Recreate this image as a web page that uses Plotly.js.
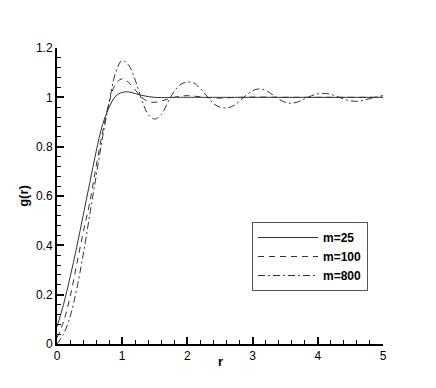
<!DOCTYPE html>
<html>
<head>
<meta charset="utf-8">
<script src="https://cdn.plot.ly/plotly-3.0.1.min.js"></script>
<style>
  html, body { margin: 0; padding: 0; background: #fff; }
  #graph { width: 436px; height: 388px; }
</style>
</head>
<body>
<div id="graph"></div>
<script>
let R_M25 = [0, 0.1, 0.2, 0.3, 0.4, 0.5, 0.6, 0.7, 0.8, 0.9, 1.0, 1.1, 1.2, 1.3, 1.4, 1.5, 1.6, 1.8, 2.0, 3.0, 4.0, 5.0]
let G_M25 = [0.07, 0.16, 0.27, 0.39, 0.52, 0.65, 0.78, 0.89, 0.96, 1.005, 1.02, 1.022, 1.015, 1.008, 1.003, 1.0, 0.999, 1.0, 1.0, 1.0, 1.0, 1.0]

let R_M100 = [0, 0.1, 0.2, 0.3, 0.4, 0.5, 0.6, 0.7, 0.8, 0.9, 1.0, 1.1, 1.2, 1.3, 1.4, 1.5, 1.6, 1.7, 1.8, 1.9, 2.0, 2.1, 2.2, 2.3, 2.5, 2.7, 3.0, 3.5, 4.0, 5.0]
let G_M100 = [0.025, 0.09, 0.19, 0.32, 0.45, 0.57, 0.72, 0.86, 0.98, 1.055, 1.075, 1.06, 1.03, 1.0, 0.982, 0.98, 0.985, 0.993, 1.0, 1.005, 1.007, 1.005, 1.002, 0.999, 0.997, 0.999, 1.001, 1.0, 1.0, 1.0]

let R_M800 = [0, 0.1, 0.2, 0.3, 0.4, 0.5, 0.6, 0.7, 0.8, 0.9, 1.0, 1.1, 1.2, 1.3, 1.4, 1.5, 1.6, 1.7, 1.8, 1.9, 2.0, 2.1, 2.2, 2.3, 2.4, 2.5, 2.6, 2.7, 2.8, 2.9, 3.0, 3.1, 3.2, 3.3, 3.4, 3.5, 3.6, 3.7, 3.8, 3.9, 4.0, 4.1, 4.2, 4.3, 4.4, 4.5, 4.6, 4.7, 4.8, 4.9, 5.0]
let G_M800 = [0.0, 0.04, 0.11, 0.22, 0.36, 0.52, 0.68, 0.84, 0.98, 1.10, 1.15, 1.13, 1.07, 0.99, 0.93, 0.912, 0.93, 0.98, 1.025, 1.053, 1.062, 1.058, 1.035, 1.005, 0.975, 0.96, 0.957, 0.965, 0.985, 1.008, 1.027, 1.034, 1.028, 1.012, 0.993, 0.98, 0.976, 0.982, 0.994, 1.006, 1.014, 1.016, 1.012, 1.003, 0.993, 0.986, 0.984, 0.988, 0.995, 1.002, 1.007]

let LABELS = ["m=25", "m=100", "m=800"]

function show_graph() {
  let line_color = "#333"
  let data = [
    { x: R_M25, y: G_M25, mode: "lines", name: LABELS[0], line: { color: line_color, width: 1, dash: "solid", shape: "spline" } },
    { x: R_M100, y: G_M100, mode: "lines", name: LABELS[1], line: { color: line_color, width: 1, dash: "6px,5px", shape: "spline" } },
    { x: R_M800, y: G_M800, mode: "lines", name: LABELS[2], line: { color: line_color, width: 1, dash: "7px,3px,2px,3px", shape: "spline" } }
  ]

  let axis_font = { family: "Liberation Sans, Arial, sans-serif", size: 12, color: "#000" }
  let layout = {
    width: 436,
    height: 388,
    margin: { l: 57, r: 53, t: 48, b: 44 },
    paper_bgcolor: "#fff",
    plot_bgcolor: "#fff",
    font: axis_font,
    showlegend: true,
    xaxis: {
      range: [0, 5],
      dtick: 1,
      ticks: "inside",
      ticklen: 7,
      tickwidth: 2,
      tickcolor: "#000",
      showline: true,
      linecolor: "#000",
      linewidth: 2,
      showgrid: false,
      zeroline: false,
      tickfont: axis_font,
      minor: { dtick: 0.2, ticks: "inside", ticklen: 4, tickwidth: 1, tickcolor: "#000", showgrid: false }
    },
    yaxis: {
      range: [0, 1.2],
      dtick: 0.2,
      ticks: "inside",
      ticklen: 7,
      tickwidth: 2,
      tickcolor: "#000",
      showline: true,
      linecolor: "#000",
      linewidth: 2,
      showgrid: false,
      zeroline: false,
      tickfont: axis_font,
      minor: { dtick: 0.04, ticks: "inside", ticklen: 4, tickwidth: 1, tickcolor: "#000", showgrid: false },
      title: { text: "<b>g(r)</b>", font: { family: "Liberation Sans, Arial, sans-serif", size: 13 }, standoff: 4 }
    },
    // x title as annotation so it sits closer to the tick labels
    annotations: [{
      text: "<b>r</b>",
      xref: "paper", yref: "paper",
      x: 0.5, y: 0,
      xanchor: "center", yanchor: "top",
      yshift: -8,
      showarrow: false,
      font: { family: "Liberation Sans, Arial, sans-serif", size: 13, color: "#000" }
    }],
    legend: {
      bordercolor: "#555",
      borderwidth: 1,
      bgcolor: "#fff",
      font: { family: "Liberation Sans, Arial, sans-serif", size: 12, weight: "bold", color: "#000" },
      tracegroupgap: 0,
      itemwidth: 60,
      xanchor: "left",
      yanchor: "top"
    }
  }
  // legend box position in pixels -> paper coords
  let pw = 436 - 57 - 53, ph = 388 - 48 - 44
  layout.legend.x = (252 - 57) / pw
  layout.legend.y = 1 - (222 - 48) / ph

  Plotly.newPlot("graph", data, layout, { displayModeBar: false, staticPlot: true })
}

show_graph()
</script>
</body>
</html>
